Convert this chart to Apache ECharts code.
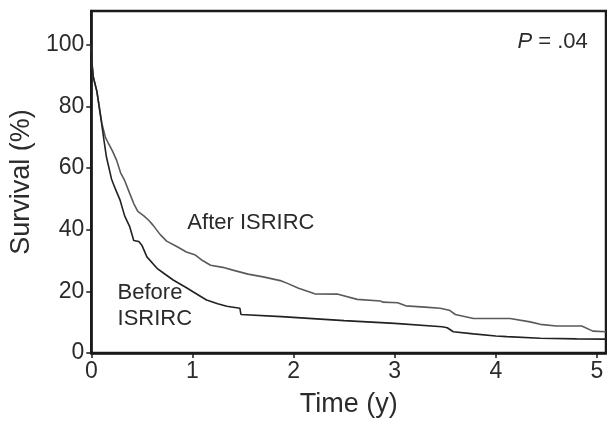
<!DOCTYPE html>
<html>
<head>
<meta charset="utf-8">
<script src="https://cdn.jsdelivr.net/npm/echarts@6/dist/echarts.min.js"></script>
<style>
html,body{margin:0;padding:0;background:#fff;}
#chart{width:607px;height:423px;}
</style>
</head>
<body>
<div id="chart"></div>
<script>
// Kaplan-Meier survival curves, [time (y), survival (%)]
var beforeISRIRC = [
  [0,100],[0.01,93],[0.02,89.6],[0.055,85],[0.10,75],[0.13,68],[0.15,63.6],[0.2,56.5],
  [0.235,53.5],[0.285,49.6],[0.33,44.5],[0.38,41],[0.42,36.5],[0.47,36.2],[0.5,35],
  [0.55,31.2],[0.65,27.5],[0.72,25.8],[0.81,23.7],[0.95,21],[1.05,19],[1.14,17.2],
  [1.25,16],[1.34,15.2],[1.47,14.5],[1.48,12.5],[1.88,11.8],[2.5,10.5],[3.0,9.6],
  [3.47,8.5],[3.52,8.2],[3.58,6.9],[3.78,6.2],[4.0,5.5],[4.11,5.3],[4.44,4.8],
  [4.8,4.6],[5.09,4.5]
];
var afterISRIRC = [
  [0,100],[0.01,93],[0.02,89.6],[0.055,85],[0.105,74.5],[0.14,70],[0.17,68],[0.21,65.5],
  [0.25,62.6],[0.29,58.5],[0.33,56],[0.38,51.8],[0.42,48.5],[0.46,46],[0.52,44.5],
  [0.57,43],[0.61,41.5],[0.68,38.5],[0.745,36.3],[0.85,34.5],[0.94,32.8],[1.03,31.8],
  [1.1,30],[1.18,28.5],[1.3,27.8],[1.4,26.9],[1.55,25.6],[1.7,24.7],[1.88,23.4],
  [1.94,22.6],[2.05,21],[2.21,19.2],[2.44,19.1],[2.63,17.4],[2.86,16.9],[2.88,16.5],
  [3.03,16.3],[3.11,15.3],[3.3,14.9],[3.45,14.5],[3.54,13.9],[3.60,12.5],[3.78,11.2],
  [4.14,11.2],[4.34,10.1],[4.44,9.3],[4.60,8.75],[4.85,8.75],[4.96,7.1],[5.09,6.9]
];
var xTicks = [0,1,2,3,4,5];
var yTicks = [0,20,40,60,80,100];
var xTitle = 'Time (y)';
var yTitle = 'Survival (%)';
var pText = ' = .04';
// annotation anchors in data coordinates [x, y]
var labelAfter = {text:'After ISRIRC', at:[0.95,42.3]};
var labelBefore1 = {text:'Before', at:[0.26,19.6]};
var labelBefore2 = {text:'ISRIRC', at:[0.26,10.9]};
var labelP = {at:[4.91,101]};

var FONT = '"Liberation Sans", Arial, sans-serif';
var TXT = '#2b2b2b';
var chart = echarts.init(document.getElementById('chart'), null, {renderer:'canvas'});
chart.setOption({
  animation:false,
  backgroundColor:'#fff',
  grid:{left:89, right:1, top:11, bottom:70, show:true, borderColor:'#1a1a1a', borderWidth:2.5, backgroundColor:'transparent'},
  xAxis:{
    type:'value', min:0, max:5.09, interval:1,
    axisLine:{show:true, onZero:false, lineStyle:{color:'#1a1a1a', width:2.5}},
    axisTick:{show:true, inside:false, length:5, lineStyle:{color:'#1a1a1a', width:1.5},
      customValues: xTicks},
    axisLabel:{show:true, margin:7, fontSize:23, fontFamily:FONT, color:TXT,
      customValues: xTicks, formatter:function(v){return xTicks.indexOf(v)>=0? String(v):'';}},
    splitLine:{show:false},
    name:xTitle, nameLocation:'middle', nameGap:38,
    nameTextStyle:{fontSize:27, fontFamily:FONT, color:TXT}
  },
  yAxis:{
    type:'value', min:0, max:111, interval:20,
    axisLine:{show:true, onZero:false, lineStyle:{color:'#1a1a1a', width:2.5}},
    axisTick:{show:true, inside:false, length:5, lineStyle:{color:'#1a1a1a', width:1.5},
      customValues: yTicks},
    axisLabel:{show:true, margin:7, fontSize:23, fontFamily:FONT, color:TXT,
      customValues: yTicks, formatter:function(v){return yTicks.indexOf(v)>=0? String(v):'';}},
    splitLine:{show:false},
    name:yTitle, nameLocation:'middle', nameGap:55,
    nameTextStyle:{fontSize:27, fontFamily:FONT, color:TXT}
  },
  series:[
    {type:'line', name:'Before ISRIRC', data:beforeISRIRC, showSymbol:false, symbol:'none',
     lineStyle:{color:'#222', width:1.6}, z:3},
    {type:'line', name:'After ISRIRC', data:afterISRIRC, showSymbol:false, symbol:'none',
     lineStyle:{color:'#5a5a5a', width:1.6}, z:2}
  ]
});

function px(p){ return chart.convertToPixel({gridIndex:0}, p); }
var pA = px(labelAfter.at), pB1 = px(labelBefore1.at), pB2 = px(labelBefore2.at), pP = px(labelP.at);
chart.setOption({
  graphic:[
    {type:'text', x:pA[0], y:pA[1], style:{text:labelAfter.text, font:'22px '+FONT, fill:TXT, align:'left', verticalAlign:'middle'}},
    {type:'text', x:pB1[0], y:pB1[1], style:{text:labelBefore1.text, font:'22px '+FONT, fill:TXT, align:'left', verticalAlign:'middle'}},
    {type:'text', x:pB2[0], y:pB2[1], style:{text:labelBefore2.text, font:'22px '+FONT, fill:TXT, align:'left', verticalAlign:'middle'}},
    {type:'text', x:pP[0], y:pP[1], style:{text:'{i|P}{n|'+pText+'}', align:'right', verticalAlign:'middle',
      rich:{i:{fontStyle:'italic', fontSize:22, fontFamily:FONT, fill:TXT}, n:{fontSize:22, fontFamily:FONT, fill:TXT}}}}
  ]
});
</script>
</body>
</html>
